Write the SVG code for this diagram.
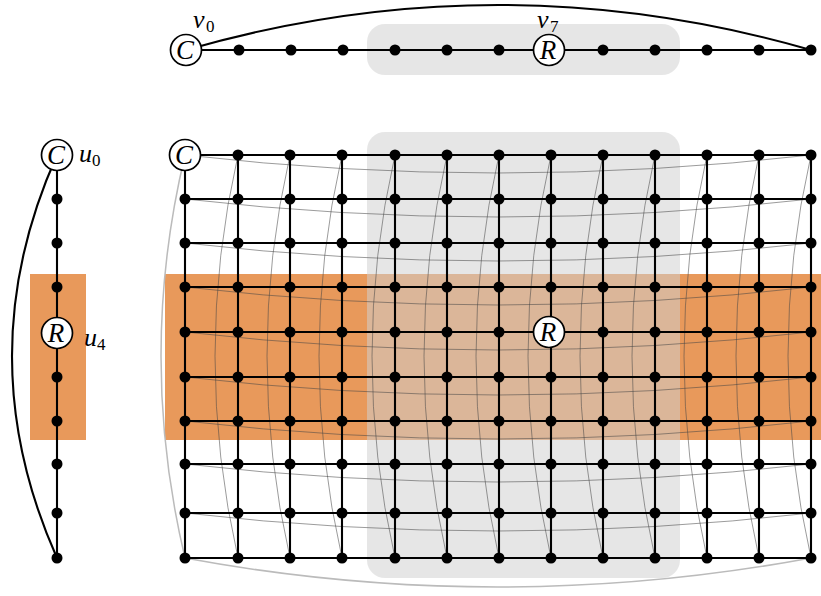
<svg xmlns="http://www.w3.org/2000/svg" width="821" height="596" viewBox="0 0 821 596">
<style>
.e{stroke:#000;stroke-width:2.1;fill:none}
.g{stroke:#444;stroke-opacity:0.6;stroke-width:0.9;fill:none}
.gl{stroke:#bbb;stroke-width:1.5;fill:none}
.d{fill:#000}
.big{fill:#fff;stroke:#000;stroke-width:1.7}
.t{font-family:"Liberation Serif","DejaVu Serif",serif;font-style:italic;fill:#000}
.lt{font-size:27px}
.lb{font-size:26px}
.sb{font-size:17px;font-style:normal}
.or{fill:#E8995B}
.gr{fill:#d0d0d0;fill-opacity:0.53}
</style>
<g id="backgrounds">
<rect class="or" x="30" y="274" width="56" height="166"/>
<rect class="or" x="165" y="274" width="656" height="166"/>
<rect class="gr" x="367" y="24" width="313" height="51" rx="18"/>
<rect class="gr" x="367" y="132" width="313" height="446" rx="18"/>
</g>
<g id="connectors">
<g id="grey-wrap">
<path class="g" d="M185 155Q498 191 811 155"/>
<path class="g" d="M185 199Q498 235 811 199"/>
<path class="g" d="M185 243Q498 279 811 243"/>
<path class="g" d="M185 287Q498 323 811 287"/>
<path class="g" d="M185 332Q498 368 811 332"/>
<path class="g" d="M185 377Q498 413 811 377"/>
<path class="g" d="M185 421Q498 457 811 421"/>
<path class="g" d="M185 464Q498 500 811 464"/>
<path class="g" d="M185 513Q498 549 811 513"/>
<path class="gl" d="M185 558Q498 616 811 558"/>
<path class="gl" d="M185 155Q137 356 185 558"/>
<path class="g" d="M238 155Q192 356 238 558"/>
<path class="g" d="M290 155Q244 356 290 558"/>
<path class="g" d="M342 155Q296 356 342 558"/>
<path class="g" d="M395 155Q349 356 395 558"/>
<path class="g" d="M447 155Q401 356 447 558"/>
<path class="g" d="M499 155Q453 356 499 558"/>
<path class="g" d="M551 155Q505 356 551 558"/>
<path class="g" d="M603 155Q557 356 603 558"/>
<path class="g" d="M655 155Q609 356 655 558"/>
<path class="g" d="M707 155Q661 356 707 558"/>
<path class="g" d="M759 155Q713 356 759 558"/>
<path class="g" d="M811 155Q765 356 811 558"/>
</g>
<g id="top-path">
<path class="e" d="M186 50H811"/>
<path class="e" d="M186 50Q498 -40 811 50"/>
</g>
<g id="left-path">
<path class="e" d="M57 155V558"/>
<path class="e" d="M57 155Q-33 356 57 558"/>
</g>
<g id="grid-edges">
<path class="e" d="M185 155H811M185 199H811M185 243H811M185 287H811M185 332H811M185 377H811M185 421H811M185 464H811M185 513H811M185 558H811"/>
<path class="e" d="M185 155V558M238 155V558M290 155V558M342 155V558M395 155V558M447 155V558M499 155V558M551 155V558M603 155V558M655 155V558M707 155V558M759 155V558M811 155V558"/>
</g>
</g>
<g id="top-nodes">
<g id="v0"><circle class="big" cx="186" cy="50" r="15.5"/><text class="t lt" x="185" y="59" text-anchor="middle">C</text></g>
<g id="v0-label"><text class="t lb" x="193" y="28">v</text><text class="t sb" x="206" y="32">0</text></g>
<g id="v1"><circle class="d" cx="239" cy="50" r="5.5"/></g>
<g id="v2"><circle class="d" cx="291" cy="50" r="5.5"/></g>
<g id="v3"><circle class="d" cx="343" cy="50" r="5.5"/></g>
<g id="v4"><circle class="d" cx="395" cy="50" r="5.5"/></g>
<g id="v5"><circle class="d" cx="447" cy="50" r="5.5"/></g>
<g id="v6"><circle class="d" cx="499" cy="50" r="5.5"/></g>
<g id="v7"><circle class="big" cx="549" cy="50" r="15.5"/><text class="t lt" x="548" y="59" text-anchor="middle">R</text></g>
<g id="v7-label"><text class="t lb" x="537" y="28">v</text><text class="t sb" x="550" y="32">7</text></g>
<g id="v8"><circle class="d" cx="603" cy="50" r="5.5"/></g>
<g id="v9"><circle class="d" cx="655" cy="50" r="5.5"/></g>
<g id="v10"><circle class="d" cx="707" cy="50" r="5.5"/></g>
<g id="v11"><circle class="d" cx="759" cy="50" r="5.5"/></g>
<g id="v12"><circle class="d" cx="811" cy="50" r="5.5"/></g>
</g>
<g id="left-nodes">
<g id="u0"><circle class="big" cx="57" cy="155" r="15.5"/><text class="t lt" x="56" y="164" text-anchor="middle">C</text></g>
<g id="u0-label"><text class="t lb" x="79" y="162">u</text><text class="t sb" x="92" y="166">0</text></g>
<g id="u1"><circle class="d" cx="57" cy="199" r="5.5"/></g>
<g id="u2"><circle class="d" cx="57" cy="243" r="5.5"/></g>
<g id="u3"><circle class="d" cx="57" cy="287" r="5.5"/></g>
<g id="u4"><circle class="big" cx="57" cy="333" r="15.5"/><text class="t lt" x="56" y="342" text-anchor="middle">R</text></g>
<g id="u4-label"><text class="t lb" x="84" y="346">u</text><text class="t sb" x="97" y="350">4</text></g>
<g id="u5"><circle class="d" cx="57" cy="377" r="5.5"/></g>
<g id="u6"><circle class="d" cx="57" cy="421" r="5.5"/></g>
<g id="u7"><circle class="d" cx="57" cy="464" r="5.5"/></g>
<g id="u8"><circle class="d" cx="57" cy="513" r="5.5"/></g>
<g id="u9"><circle class="d" cx="57" cy="558" r="5.5"/></g>
</g>
<g id="grid-nodes">
<g id="g0-0"><circle class="big" cx="185" cy="155" r="15.5"/><text class="t lt" x="184" y="164" text-anchor="middle">C</text></g>
<g id="row0"><circle class="d" cx="238" cy="155" r="5.5"/><circle class="d" cx="290" cy="155" r="5.5"/><circle class="d" cx="342" cy="155" r="5.5"/><circle class="d" cx="395" cy="155" r="5.5"/><circle class="d" cx="447" cy="155" r="5.5"/><circle class="d" cx="499" cy="155" r="5.5"/><circle class="d" cx="551" cy="155" r="5.5"/><circle class="d" cx="603" cy="155" r="5.5"/><circle class="d" cx="655" cy="155" r="5.5"/><circle class="d" cx="707" cy="155" r="5.5"/><circle class="d" cx="759" cy="155" r="5.5"/><circle class="d" cx="811" cy="155" r="5.5"/></g>
<g id="row1"><circle class="d" cx="185" cy="199" r="5.5"/><circle class="d" cx="238" cy="199" r="5.5"/><circle class="d" cx="290" cy="199" r="5.5"/><circle class="d" cx="342" cy="199" r="5.5"/><circle class="d" cx="395" cy="199" r="5.5"/><circle class="d" cx="447" cy="199" r="5.5"/><circle class="d" cx="499" cy="199" r="5.5"/><circle class="d" cx="551" cy="199" r="5.5"/><circle class="d" cx="603" cy="199" r="5.5"/><circle class="d" cx="655" cy="199" r="5.5"/><circle class="d" cx="707" cy="199" r="5.5"/><circle class="d" cx="759" cy="199" r="5.5"/><circle class="d" cx="811" cy="199" r="5.5"/></g>
<g id="row2"><circle class="d" cx="185" cy="243" r="5.5"/><circle class="d" cx="238" cy="243" r="5.5"/><circle class="d" cx="290" cy="243" r="5.5"/><circle class="d" cx="342" cy="243" r="5.5"/><circle class="d" cx="395" cy="243" r="5.5"/><circle class="d" cx="447" cy="243" r="5.5"/><circle class="d" cx="499" cy="243" r="5.5"/><circle class="d" cx="551" cy="243" r="5.5"/><circle class="d" cx="603" cy="243" r="5.5"/><circle class="d" cx="655" cy="243" r="5.5"/><circle class="d" cx="707" cy="243" r="5.5"/><circle class="d" cx="759" cy="243" r="5.5"/><circle class="d" cx="811" cy="243" r="5.5"/></g>
<g id="row3"><circle class="d" cx="185" cy="287" r="5.5"/><circle class="d" cx="238" cy="287" r="5.5"/><circle class="d" cx="290" cy="287" r="5.5"/><circle class="d" cx="342" cy="287" r="5.5"/><circle class="d" cx="395" cy="287" r="5.5"/><circle class="d" cx="447" cy="287" r="5.5"/><circle class="d" cx="499" cy="287" r="5.5"/><circle class="d" cx="551" cy="287" r="5.5"/><circle class="d" cx="603" cy="287" r="5.5"/><circle class="d" cx="655" cy="287" r="5.5"/><circle class="d" cx="707" cy="287" r="5.5"/><circle class="d" cx="759" cy="287" r="5.5"/><circle class="d" cx="811" cy="287" r="5.5"/></g>
<g id="row4"><circle class="d" cx="185" cy="332" r="5.5"/><circle class="d" cx="238" cy="332" r="5.5"/><circle class="d" cx="290" cy="332" r="5.5"/><circle class="d" cx="342" cy="332" r="5.5"/><circle class="d" cx="395" cy="332" r="5.5"/><circle class="d" cx="447" cy="332" r="5.5"/><circle class="d" cx="499" cy="332" r="5.5"/><circle class="d" cx="603" cy="332" r="5.5"/><circle class="d" cx="655" cy="332" r="5.5"/><circle class="d" cx="707" cy="332" r="5.5"/><circle class="d" cx="759" cy="332" r="5.5"/><circle class="d" cx="811" cy="332" r="5.5"/></g>
<g id="g4-7"><circle class="big" cx="549" cy="332" r="15.5"/><text class="t lt" x="548" y="341" text-anchor="middle">R</text></g>
<g id="row5"><circle class="d" cx="185" cy="377" r="5.5"/><circle class="d" cx="238" cy="377" r="5.5"/><circle class="d" cx="290" cy="377" r="5.5"/><circle class="d" cx="342" cy="377" r="5.5"/><circle class="d" cx="395" cy="377" r="5.5"/><circle class="d" cx="447" cy="377" r="5.5"/><circle class="d" cx="499" cy="377" r="5.5"/><circle class="d" cx="551" cy="377" r="5.5"/><circle class="d" cx="603" cy="377" r="5.5"/><circle class="d" cx="655" cy="377" r="5.5"/><circle class="d" cx="707" cy="377" r="5.5"/><circle class="d" cx="759" cy="377" r="5.5"/><circle class="d" cx="811" cy="377" r="5.5"/></g>
<g id="row6"><circle class="d" cx="185" cy="421" r="5.5"/><circle class="d" cx="238" cy="421" r="5.5"/><circle class="d" cx="290" cy="421" r="5.5"/><circle class="d" cx="342" cy="421" r="5.5"/><circle class="d" cx="395" cy="421" r="5.5"/><circle class="d" cx="447" cy="421" r="5.5"/><circle class="d" cx="499" cy="421" r="5.5"/><circle class="d" cx="551" cy="421" r="5.5"/><circle class="d" cx="603" cy="421" r="5.5"/><circle class="d" cx="655" cy="421" r="5.5"/><circle class="d" cx="707" cy="421" r="5.5"/><circle class="d" cx="759" cy="421" r="5.5"/><circle class="d" cx="811" cy="421" r="5.5"/></g>
<g id="row7"><circle class="d" cx="185" cy="464" r="5.5"/><circle class="d" cx="238" cy="464" r="5.5"/><circle class="d" cx="290" cy="464" r="5.5"/><circle class="d" cx="342" cy="464" r="5.5"/><circle class="d" cx="395" cy="464" r="5.5"/><circle class="d" cx="447" cy="464" r="5.5"/><circle class="d" cx="499" cy="464" r="5.5"/><circle class="d" cx="551" cy="464" r="5.5"/><circle class="d" cx="603" cy="464" r="5.5"/><circle class="d" cx="655" cy="464" r="5.5"/><circle class="d" cx="707" cy="464" r="5.5"/><circle class="d" cx="759" cy="464" r="5.5"/><circle class="d" cx="811" cy="464" r="5.5"/></g>
<g id="row8"><circle class="d" cx="185" cy="513" r="5.5"/><circle class="d" cx="238" cy="513" r="5.5"/><circle class="d" cx="290" cy="513" r="5.5"/><circle class="d" cx="342" cy="513" r="5.5"/><circle class="d" cx="395" cy="513" r="5.5"/><circle class="d" cx="447" cy="513" r="5.5"/><circle class="d" cx="499" cy="513" r="5.5"/><circle class="d" cx="551" cy="513" r="5.5"/><circle class="d" cx="603" cy="513" r="5.5"/><circle class="d" cx="655" cy="513" r="5.5"/><circle class="d" cx="707" cy="513" r="5.5"/><circle class="d" cx="759" cy="513" r="5.5"/><circle class="d" cx="811" cy="513" r="5.5"/></g>
<g id="row9"><circle class="d" cx="185" cy="558" r="5.5"/><circle class="d" cx="238" cy="558" r="5.5"/><circle class="d" cx="290" cy="558" r="5.5"/><circle class="d" cx="342" cy="558" r="5.5"/><circle class="d" cx="395" cy="558" r="5.5"/><circle class="d" cx="447" cy="558" r="5.5"/><circle class="d" cx="499" cy="558" r="5.5"/><circle class="d" cx="551" cy="558" r="5.5"/><circle class="d" cx="603" cy="558" r="5.5"/><circle class="d" cx="655" cy="558" r="5.5"/><circle class="d" cx="707" cy="558" r="5.5"/><circle class="d" cx="759" cy="558" r="5.5"/><circle class="d" cx="811" cy="558" r="5.5"/></g>
</g>
</svg>
